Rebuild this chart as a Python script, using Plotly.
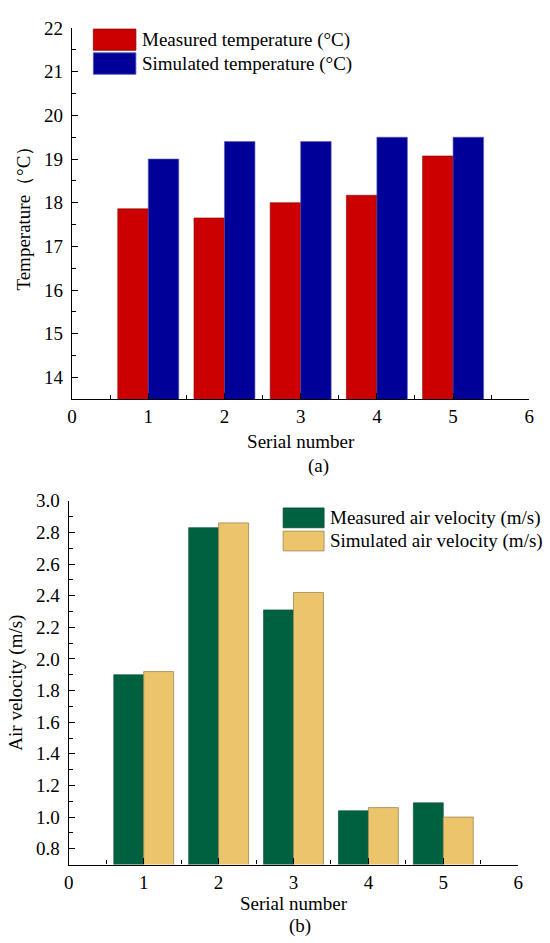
import plotly.graph_objects as go

# ---- data ----
serial = [1, 2, 3, 4, 5]
measured_temp = [17.86, 17.65, 18.0, 18.17, 19.07]
simulated_temp = [19.0, 19.4, 19.4, 19.5, 19.5]
measured_vel = [1.90, 2.83, 2.31, 1.04, 1.09]
simulated_vel = [1.92, 2.86, 2.42, 1.06, 1.00]
x_ticks = [0, 1, 2, 3, 4, 5, 6]

W, H = 550, 943
FONT = "Liberation Serif"
FS = 19

def px(x):
    return x / W

def py(y):
    return 1 - y / H

RED, BLUE = "#CC0000", "#000099"
GREEN, YELLOW = "#006140", "#EBC46C"

fig = go.Figure()
fig.add_trace(go.Bar(x=serial, y=measured_temp, name="Measured temperature (°C)",
                     marker=dict(color=RED, line=dict(color="#8A0000", width=0.6)),
                     xaxis="x", yaxis="y", offsetgroup="a"))
fig.add_trace(go.Bar(x=serial, y=simulated_temp, name="Simulated temperature (°C)",
                     marker=dict(color=BLUE, line=dict(color="#5555AA", width=0.6)),
                     xaxis="x", yaxis="y", offsetgroup="b"))
fig.add_trace(go.Bar(x=serial, y=measured_vel, name="Measured air velocity (m/s)",
                     marker=dict(color=GREEN, line=dict(color="#004a30", width=0.6)),
                     xaxis="x2", yaxis="y2", offsetgroup="a"))
fig.add_trace(go.Bar(x=serial, y=simulated_vel, name="Simulated air velocity (m/s)",
                     marker=dict(color=YELLOW, line=dict(color="#A08850", width=0.8)),
                     xaxis="x2", yaxis="y2", offsetgroup="b"))

axis_common = dict(showline=True, linecolor="black", linewidth=1.4, ticks="inside",
                   ticklen=6, tickwidth=1.3, tickcolor="black", showgrid=False,
                   zeroline=False, tickfont=dict(family=FONT, size=FS, color="black"))
minor_common = dict(ticks="inside", ticklen=4, tickwidth=1.2, tickcolor="black")

fig.update_layout(
    width=W, height=H, margin=dict(l=0, r=0, t=0, b=0),
    paper_bgcolor="white", plot_bgcolor="white",
    barmode="group", bargap=0.2, bargroupgap=0, showlegend=False,
    font=dict(family=FONT, size=FS, color="black"),
    xaxis=dict(domain=[px(68.3), px(534)], range=[0, 6], tickvals=x_ticks,
               minor=dict(dtick=0.5, **minor_common),
               anchor="y", ticklabelstandoff=0,
               title=dict(text="Serial number", standoff=8, font=dict(family=FONT, size=FS)),
               **axis_common),
    yaxis=dict(domain=[py(393.3), py(18.3)], range=[13.5, 22], dtick=1, tick0=0,
               minor=dict(dtick=0.5, **minor_common),
               anchor="x", ticklabelstandoff=4,
               title=dict(text="Temperature（°C）", standoff=8, font=dict(family=FONT, size=FS)),
               **axis_common),
    xaxis2=dict(domain=[px(65), px(522.7)], range=[0, 6], tickvals=x_ticks,
                minor=dict(dtick=0.5, **minor_common),
                anchor="y2", ticklabelstandoff=0,
                title=dict(text="Serial number", standoff=2, font=dict(family=FONT, size=FS)),
                **axis_common),
    yaxis2=dict(domain=[py(863.7), py(496)], range=[0.7, 3.0], dtick=0.2, tick0=0,
                tickformat=".1f",
                minor=dict(dtick=0.1, **minor_common),
                anchor="x2", ticklabelstandoff=4,
                title=dict(text="Air velocity (m/s)", standoff=8, font=dict(family=FONT, size=FS)),
                **axis_common),
)

# panel labels
fig.add_annotation(text="(a)", x=px(319), y=py(461), xref="paper", yref="paper",
                   showarrow=False, font=dict(family=FONT, size=FS), xanchor="center", yanchor="middle")
fig.add_annotation(text="(b)", x=px(300), y=py(926), xref="paper", yref="paper",
                   showarrow=False, font=dict(family=FONT, size=FS), xanchor="center", yanchor="middle")

# legends (large swatches drawn as shapes + text)
legend_items = [
    (fig.data[0].name, RED, "#8A0000", 90, 133.3, 19.3, 40.7, 138),
    (fig.data[1].name, BLUE, "#5555AA", 90, 133.3, 43.3, 65, 138),
    (fig.data[2].name, GREEN, "#004a30", 283.3, 325, 503.3, 523.3, 329),
    (fig.data[3].name, YELLOW, "#A08850", 283.3, 325, 526.7, 546.7, 329),
]
for name, col, lcol, x0, x1, y0, y1, tx in legend_items:
    fig.add_shape(type="rect", xref="paper", yref="paper",
                  x0=px(x0), x1=px(x1), y0=py(y1), y1=py(y0),
                  fillcolor=col, line=dict(color=lcol, width=0.8))
    fig.add_annotation(text=name, x=px(tx), y=py((y0 + y1) / 2), xref="paper", yref="paper",
                       showarrow=False, xanchor="left", yanchor="middle",
                       font=dict(family=FONT, size=FS, color="black"))

fig.write_html("out.html", config={"displayModeBar": False},
               post_script="document.body.style.margin='0';document.body.style.overflow='hidden';")
